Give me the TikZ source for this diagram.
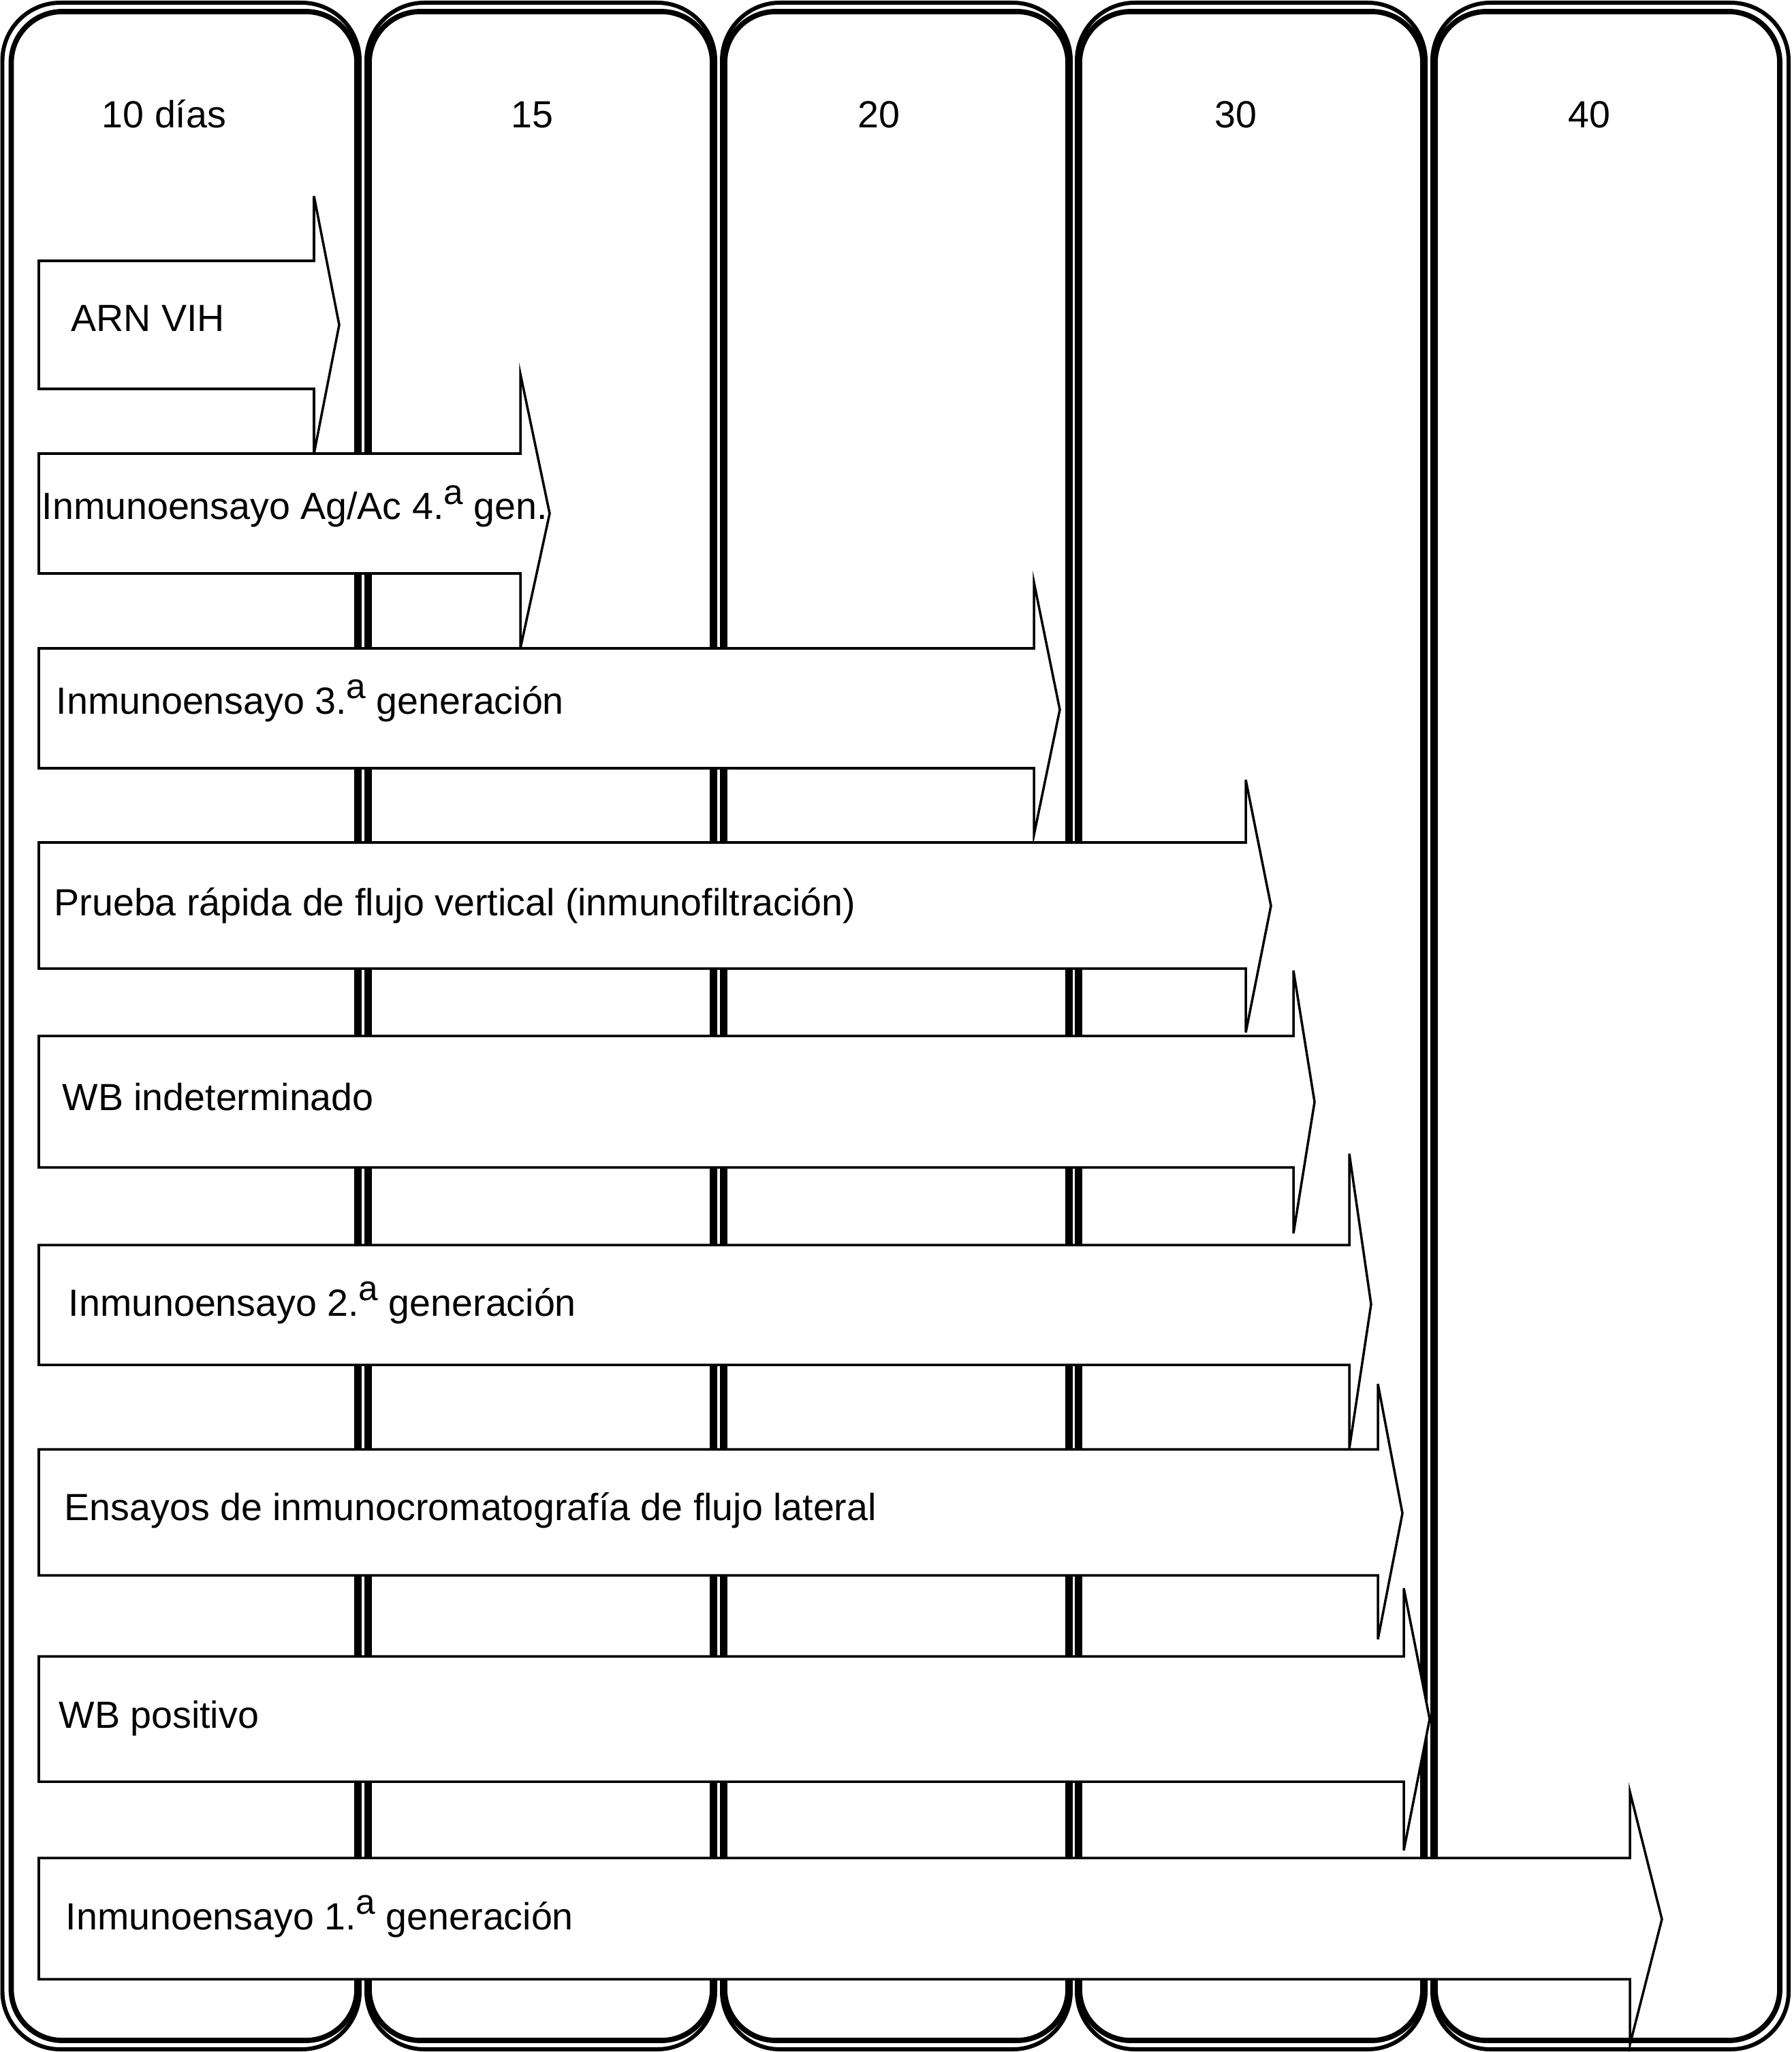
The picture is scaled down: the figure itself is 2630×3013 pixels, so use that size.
\documentclass[tikz,border=0pt]{standalone}
\usepackage{fontspec}
\setmainfont{Liberation Sans}
\newcommand{\supa}{\raisebox{6.4pt}{\fontsize{14.6pt}{14.6pt}\selectfont a}}
\newcommand{\harrow}[7]{%
  \path[arrowshape] (57,#1) -- (#3,#1) -- (#3,#4) -- (#6,#7) -- (#3,#5) -- (#3,#2) -- (57,#2) -- cycle;}
\begin{document}
\begin{tikzpicture}[x=0.01cm,y=-0.01cm,
  outerline/.style={line width=1.7pt, rounded corners=0.85cm},
  innerline/.style={line width=2.2pt, rounded corners=0.75cm},
  arrowshape/.style={draw, fill=white, line width=1pt, line join=miter},
  lbl/.style={anchor=base west, inner sep=0pt, font=\fontsize{15.8pt}{18pt}\selectfont},
  daylbl/.style={anchor=base, inner sep=0pt, font=\fontsize{15.8pt}{18pt}\selectfont}]
\useasboundingbox (0,0) rectangle (2630,3013);
% columns
\draw[outerline] (3.5,4) rectangle (528,3009);
\draw[innerline] (16.5,17) rectangle (524,2996);
\draw[outerline] (538,4) rectangle (1050,3009);
\draw[innerline] (542,17) rectangle (1046,2996);
\draw[outerline] (1060,4) rectangle (1572,3009);
\draw[innerline] (1064,17) rectangle (1568,2996);
\draw[outerline] (1581,4) rectangle (2093,3009);
\draw[innerline] (1585,17) rectangle (2089,2996);
\draw[outerline] (2103,4) rectangle (2626,3009);
\draw[innerline] (2107,17) rectangle (2613,2996);
% day labels
\node[daylbl] (d1) at (241,188) {10 días};
\node[daylbl] (d2) at (781,188) {15};
\node[daylbl] (d3) at (1290,188) {20};
\node[daylbl] (d4) at (1814,188) {30};
\node[daylbl] (d5) at (2333,188) {40};
% arrows
\harrow{383}{571}{461}{288}{666}{498}{477}
\node[lbl] (t1) at (104,487) {ARN VIH};
\harrow{666}{842}{764}{549}{952}{807}{754}
\node[lbl] (t2) at (61,763) {Inmunoensayo Ag/Ac 4.\supa{} gen.};
\harrow{952}{1128}{1518}{855}{1226}{1556}{1042}
\node[lbl] (t3) at (82,1048) {Inmunoensayo 3.\supa{} generación};
\harrow{1237}{1422}{1829}{1145}{1516}{1866}{1330}
\node[lbl] (t4) at (79,1344) {Prueba rápida de flujo vertical (inmunofiltración)};
\harrow{1521}{1714}{1899}{1425}{1811}{1930}{1618}
\node[lbl] (t5) at (91,1630) {WB indeterminado};
\harrow{1828}{2004}{1981}{1694}{2127}{2013}{1915}
\node[lbl] (t6) at (100,1932) {Inmunoensayo 2.\supa{} generación};
\harrow{2128}{2313}{2023}{2032}{2407}{2059}{2222}
\node[lbl] (t7) at (94,2232) {Ensayos de inmunocromatografía de flujo lateral};
\harrow{2432}{2616}{2061}{2332}{2717}{2099}{2524}
\node[lbl] (t8) at (86,2537) {WB positivo};
\harrow{2728}{2906}{2393}{2631}{3002}{2440}{2818}
\node[lbl] (t9) at (96,2833) {Inmunoensayo 1.\supa{} generación};
\end{tikzpicture}
\end{document}
